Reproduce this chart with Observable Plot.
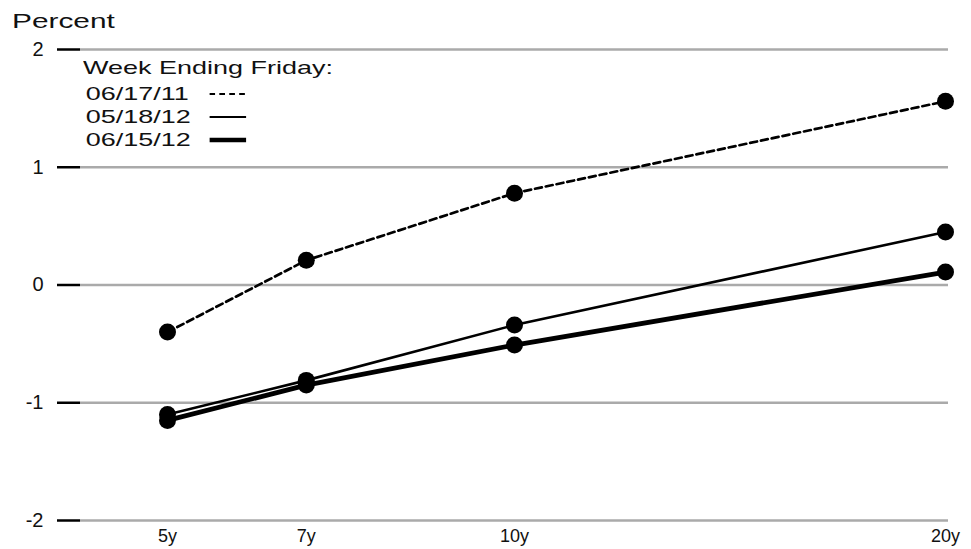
<!DOCTYPE html>
<html>
<head>
<meta charset="utf-8">
<script src="https://cdn.jsdelivr.net/npm/d3@7"></script>
<script src="https://cdn.jsdelivr.net/npm/@observablehq/plot@0.6"></script>
<style>
  html, body { margin: 0; padding: 0; background: #fff; }
  #wrap { position: relative; width: 971px; height: 549px; font-family: "Liberation Sans", Arial, sans-serif; color: #111; }
  #wrap svg { position: absolute; left: 0; top: 0; }
  .stretch { position: absolute; transform-origin: 0 0; transform: scaleX(1.42); white-space: nowrap; line-height: 1; }
  #ytitle { left: 12px; top: 10px; font-size: 21px; }
  #legend { left: 83px; top: 58px; font-size: 19px; }
  #legend .row { display: flex; align-items: center; height: 23px; }
  #legend .lab { width: 87px; padding-left: 2px; }
</style>
</head>
<body>
<div id="wrap">
  <div id="ytitle" class="stretch">Percent</div>
  <div id="legend" class="stretch"></div>
</div>
<script>
const maturities = [5, 7, 10, 20];
const tickLabels = ["5y", "7y", "10y", "20y"];
const yTicks = [-2, -1, 0, 1, 2];
const seriesNames = ["06/17/11", "05/18/12", "06/15/12"];
const v061711 = [-0.40, 0.21, 0.78, 1.56];
const v051812 = [-1.10, -0.81, -0.34, 0.45];
const v061512 = [-1.15, -0.85, -0.51, 0.11];

const seriesValues = [v061711, v051812, v061512];
const styles = [
  {strokeWidth: 2.7, strokeDasharray: "7,4"},
  {strokeWidth: 2.6, strokeDasharray: null},
  {strokeWidth: 4.8, strokeDasharray: null}
];

const data = seriesNames.flatMap((s, i) =>
  maturities.map((m, j) => ({series: s, m, v: seriesValues[i][j]})));

const lineMarks = seriesNames.map((s, i) =>
  Plot.line(data.filter(d => d.series === s), {
    x: "m", y: "v", stroke: "#000",
    strokeWidth: styles[i].strokeWidth,
    strokeDasharray: styles[i].strokeDasharray || undefined
  }));

const chart = Plot.plot({
  width: 971,
  height: 549,
  marginTop: 49,
  marginBottom: 29,
  marginLeft: 80,
  marginRight: 23,
  style: {fontFamily: "'Liberation Sans', Arial, sans-serif", background: "transparent", color: "#111"},
  x: {type: "linear", domain: [5, 10, 20], range: [167, 514, 945]},
  y: {domain: [-2, 2]},
  marks: [
    Plot.ruleY(yTicks, {stroke: "#aaa", strokeWidth: 2.5}),
    Plot.axisY({ticks: yTicks, tickSize: 23, tickPadding: 14, fontSize: 20, strokeWidth: 2.5, stroke: "#000", label: null, tickFormat: d => d}),
    Plot.axisX({ticks: maturities, tickSize: 0, tickPadding: 9, fontSize: 18, label: null,
      tickFormat: d => tickLabels[maturities.indexOf(d)]}),
    ...lineMarks,
    Plot.dot(data, {x: "m", y: "v", r: 8.5, fill: "#000", stroke: null})
  ]
});
document.getElementById("wrap").appendChild(chart);

const legend = document.getElementById("legend");
const head = document.createElement("div");
head.textContent = "Week Ending Friday:";
head.style.height = "24px";
legend.appendChild(head);
seriesNames.forEach((s, i) => {
  const row = document.createElement("div");
  row.className = "row";
  const lab = document.createElement("span");
  lab.className = "lab";
  lab.textContent = s;
  row.appendChild(lab);
  const ns = "http://www.w3.org/2000/svg";
  const svg = document.createElementNS(ns, "svg");
  svg.setAttribute("width", "26");
  svg.setAttribute("height", "10");
  svg.style.position = "static";
  const ln = document.createElementNS(ns, "line");
  ln.setAttribute("x1", "0"); ln.setAttribute("x2", "26");
  ln.setAttribute("y1", "5"); ln.setAttribute("y2", "5");
  ln.setAttribute("stroke", "#000");
  ln.setAttribute("stroke-width", i === 2 ? 4.5 : 2);
  if (styles[i].strokeDasharray) ln.setAttribute("stroke-dasharray", "4,3");
  svg.appendChild(ln);
  row.appendChild(svg);
  legend.appendChild(row);
});
</script>
</body>
</html>
